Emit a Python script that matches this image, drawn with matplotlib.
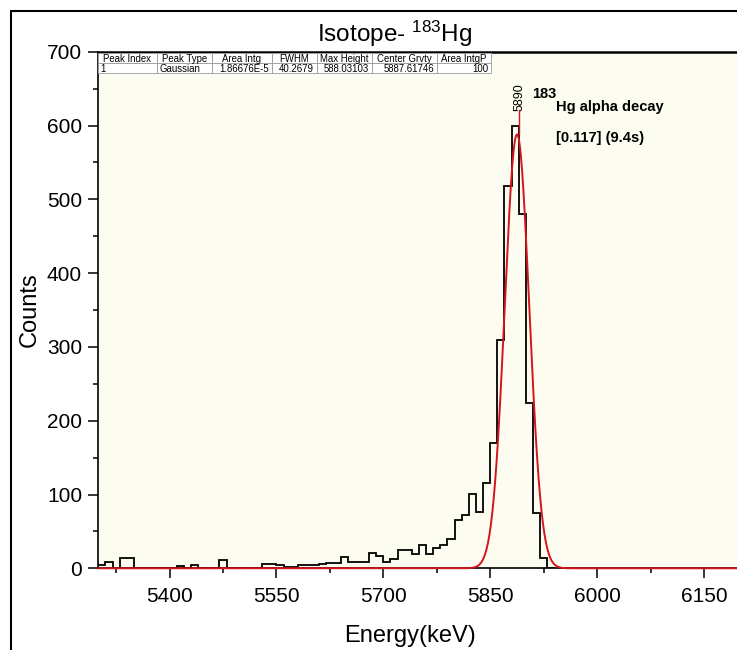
import matplotlib
matplotlib.use("Agg")
import matplotlib.pyplot as plt
import numpy as np
from matplotlib.patches import Rectangle
from matplotlib.ticker import MultipleLocator

plt.rcParams['font.family'] = ['Liberation Sans', 'DejaVu Sans']
plt.rcParams['mathtext.default'] = 'regular'

# ---------------- data ----------------
bin_start = 5290
bin_width = 10
counts = [
    6, 5, 8, 0, 14, 14, 0, 0, 0, 1,          # 5290..5380
    0, 0, 3, 0, 4, 0, 0, 0, 11, 0,           # 5390..5480
    0, 0, 0, 0,                              # 5490..5520
    6, 6, 5, 2, 2, 5, 5, 4, 6, 7,            # 5530..5620
    7, 15, 8, 9, 9, 21, 16, 8, 13, 25,       # 5630..5720
    25, 19, 31, 20, 27, 31, 40, 65, 72, 101, # 5730..5820
    76, 116, 170, 310, 518, 600, 480, 224, 75, 14,  # 5830..5920
    0,                                       # 5930
]

fit_center = 5887.61746
fit_fwhm = 40.2679
fit_height = 588.03103
peak_label = "5890"

table_header = ["Peak Index", "Peak Type", "Area Intg", "FWHM",
                "Max Height", "Center Grvty", "Area IntgP"]
table_row = ["1", "Gaussian", "1.86676E-5", "40.2679",
             "588.03103", "5887.61746", "100"]

x_major = [5400, 5550, 5700, 5850, 6000, 6150]

# ---------------- figure ----------------
W, H = 737, 650
fig = plt.figure(figsize=(W / 100, H / 100), dpi=100)
fig.patch.set_facecolor('white')

def fx(px):
    return px / W

def fy(py):
    return 1 - py / H

ax_left, ax_right, ax_top, ax_bot = 98.3, 775.2, 51.7, 568.3
ax = fig.add_axes([fx(ax_left), fy(ax_bot), (ax_right - ax_left) / W, (ax_bot - ax_top) / H])
ax.set_facecolor('#FDFCF1')

edges = bin_start + bin_width * np.arange(len(counts) + 1)
ax.stairs(counts, edges, color='black', lw=1.3, zorder=3)

xfit = np.linspace(5300, 6250, 951)
yfit = fit_height * np.exp(-4 * np.log(2) * (xfit - fit_center) ** 2 / fit_fwhm ** 2)
ax.plot(xfit, yfit, color='#D3161E', lw=1.4, zorder=4, clip_on=False)

# peak marker line + label
ax.plot([5890, 5890], [fit_height, 621], color='#D3161E', lw=1.0, zorder=4)
ax.text(5890.5, 620, peak_label, rotation=90, ha='center', va='bottom', fontsize=9)

ax.text(5908.5, 643, "183", fontsize=10.5, fontweight='bold', ha='left', va='center')
ax.text(5942, 625, "Hg alpha decay", fontsize=10.5, fontweight='bold', ha='left', va='center')
ax.text(5942, 583, "[0.117] (9.4s)", fontsize=10.5, fontweight='bold', ha='left', va='center')

ax.set_xlim(5300, 6250)
ax.set_ylim(0, 700)
ax.set_xticks(x_major)
ax.xaxis.set_minor_locator(MultipleLocator(75))
ax.yaxis.set_major_locator(MultipleLocator(100))
ax.yaxis.set_minor_locator(MultipleLocator(50))
ax.tick_params(which='major', direction='out', length=7.2, width=1.1, labelsize=15)
ax.tick_params(which='minor', direction='out', length=3.6, width=1.1)
ax.tick_params(axis='x', which='major', pad=6)
ax.tick_params(axis='y', which='major', pad=4.5)
for s in ['left', 'bottom']:
    ax.spines[s].set_linewidth(1.2)
ax.spines['top'].set_linewidth(1.8)
ax.spines['right'].set_visible(False)

# ---------------- table ----------------
col_edges = [98.3, 156.7, 211.7, 271.7, 316.7, 371.7, 436.7, 491.0]
row_edges = [53.3, 63.3, 73.3]
aligns = ['left', 'left', 'right', 'right', 'right', 'right', 'right']
for r, row in enumerate([table_header, table_row]):
    y0, y1 = row_edges[r], row_edges[r + 1]
    for c, txt in enumerate(row):
        x0, x1 = col_edges[c], col_edges[c + 1]
        fig.add_artist(Rectangle((fx(x0), fy(y1)), (x1 - x0) / W, (y1 - y0) / H,
                                 transform=fig.transFigure, facecolor='white',
                                 edgecolor='#9A9A9A', lw=0.6, zorder=5))
        if r == 0:
            tx, ha = (x0 + x1) / 2, 'center'
        elif aligns[c] == 'left':
            tx, ha = x0 + 2.5, 'left'
        else:
            tx, ha = x1 - 2.5, 'right'
        fig.text(fx(tx), fy((y0 + y1) / 2 + 0.5), txt, ha=ha, va='center',
                 fontsize=6.9, zorder=6)

# ---------------- titles ----------------
fig.text(fx(395), fy(42), r"Isotope- $^{183}$Hg", fontsize=17.5, ha='center', va='baseline')
fig.text(fx(410), fy(636), "Energy(keV)", fontsize=17, ha='center', va='center')
fig.text(fx(30), fy(310), "Counts", fontsize=17, ha='center', va='center', rotation=90)

# outer frame
fig.add_artist(Rectangle((fx(11), -0.2), 1.5, fy(11) + 0.2, transform=fig.transFigure,
                         fill=False, edgecolor='black', lw=1.5, clip_on=False))

fig.savefig("out.png", dpi=100)
